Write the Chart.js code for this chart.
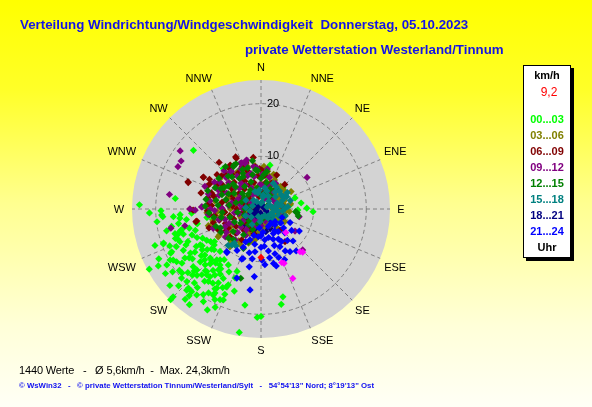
<!DOCTYPE html>
<html>
<head>
<meta charset="utf-8">
<script src="https://cdn.jsdelivr.net/npm/chart.js@4.4.0/dist/chart.umd.min.js"></script>
<style>
html, body { margin: 0; padding: 0; }
body {
    width: 592px; height: 407px; overflow: hidden; position: relative;
    background: linear-gradient(#ffff00 0%, #ffff28 22%, #ffff90 50%, #ffffd8 80%, #fffff6 100%);
    font-family: "Liberation Sans", Arial, sans-serif;
}
#chart { position: absolute; left: 0; top: 0; }
.title { position: absolute; white-space: pre; color: #1414e6; font-weight: bold; font-size: 13.3px; line-height: 16px; }
#legend { position: absolute; left: 523px; top: 65px; width: 46px; height: 191px; background: #fff; border: 1px solid #000; box-shadow: 3px 3px 0 #000; }
#legend div { position: absolute; left: 0; width: 46px; text-align: center; font-weight: bold; font-size: 11px; line-height: 16px; }
.foot { position: absolute; left: 19px; white-space: pre; }
</style>
</head>
<body>
<canvas id="chart" width="592" height="407"></canvas>
<div class="title" style="left:20px;top:17px">Verteilung Windrichtung/Windgeschwindigkeit  Donnerstag, 05.10.2023</div>
<div class="title" style="left:245px;top:42px">private Wetterstation Westerland/Tinnum</div>
<div id="legend"></div>
<div class="foot" style="top:362px;font-size:11px;line-height:16px;color:#000;letter-spacing:-0.15px">1440 Werte   -   Ø 5,6km/h  -  Max. 24,3km/h</div>
<div class="foot" style="top:380px;font-size:7.8px;line-height:12px;color:#1010f0;font-weight:bold">© WsWin32   -   © private Wetterstation Tinnum/Westerland/Sylt   -   54°54'13" Nord; 8°19'13" Ost</div>
<script>
// wind speed axis (km/h)
const speedMax = 24.5;
const ringValues = [10, 20];
const dirLabels = ["N", "NNE", "NE", "ENE", "E", "ESE", "SE", "SSE",
                   "S", "SSW", "SW", "WSW", "W", "WNW", "NW", "NNW"];
const currentSpeed = "9,2";

const hourLabels = ["00...03", "03...06", "06...09", "09...12",
                    "12...15", "15...18", "18...21", "21...24"];
const hourColors = ["#00ff00", "#808000", "#800000", "#800080",
                    "#008000", "#008080", "#000080", "#0000ff"];

// [direction in degrees, speed in km/h]
const h00_03 = [
    [272,23.1],[311,17.0],[266.5,18.9],[265,16.7],[266,15.4],[266.5,13.2],[277,16.4],[259,17.3],
    [253,16.5],[255,15.8],[251,17.2],[254,17.0],[250.7,19.6],[244.4,18.8],[241.7,24.1],[240.7,19.8],
    [235.6,18.2],[229,20.0],[222.5,20.9],[225,23.6],[219.6,21.4],[208.7,18.2],[210,17.5],[207,19.3],
    [212,18.8],[202.5,18.7],[204,16.2],[206,16.6],[200.6,14.0],[208.5,15.0],[219.3,16.2],[216,17.0],
    [222,15.8],[224,17.5],[227.2,17.3],[229,18.4],[235.8,16.5],[238,15.8],[235.2,13.6],[232,14.4],
    [238,13.2],[240,14.2],[233,12.8],[232.5,11.2],[229,11.8],[235,10.8],[222.8,14.2],[220,13.4],
    [225,15.0],[218,14.8],[218.8,12.4],[213.9,13.7],[210.3,12.3],[248,16.6],[246,15.2],[257.5,12.5],
    [258,9.3],[261,10.4],[189.5,18.5],[180,20.4],[182,20.6],[190,23.8],[166,17.2],[168,18.5],
    [82,5.6],[72,6.8],[81.5,7.7],[89,8.7],[93,9.9],[91.5,7.0],[317,10.5],[11.6,8.5],[24,7.0],[46,5.8],
    [269,19.0],[265.5,18.7],[263.5,15.5],[257,12.4],[254,16.2],[252,15.5],[250,16.8],[256,15.3],
    [249.4,14.0],[243.5,12.4],[250.3,19.7],[244.4,15.8],[239.5,13.4],[230.6,13.8],[236.9,15.0],
    [237.2,17.2],[226,13.4],[229,15.3],[243.9,19.1],[239.8,19.3],[239.3,20.8],[234.6,20.6],[231,19.3],
    [225.6,19.7],[229.6,16.9],[226.5,16.8],[222,16.8],[220.9,15.7],[224,13.5],[221,12.8],[216.2,13.2],
    [215,14.1],[214.9,15.3],[217,16.1],[203.3,15.7],[222.5,20.4],[220,20.5],[216.8,20.4],[211.9,20.7],
    [209,18.7],[209.2,17.2],[204.3,18.9],[224.9,24.3],[216.8,22.7],[208,21.7],[12,6.1],[330,8.4],
    [262,14.3],[268,21.2],[263,19.9],[260,15.9],[257,18.4],[255,14.1],[252,13.1],[248,18.7],
    [246,13.3],[244,21.6],[242,16.7],[240,11.9],[238,18.9],[236,21.9],[234,16.1],[231,12.1],
    [230,22.6],[228,14.4],[226,18.1],[224,11.2],[222,18.9],[220,22.4],[218,17.4],[216,11.9],
    [214,19.6],[212,14.6],[210,16.2],[207,13.4],[205,20.6],[203,17.6],[201,12.7],[198,16.4],
    [246,17.6],[233,19.4],[227,21.4],[241,22.3],[251,21.3],[219,19.2],[237,11.4],[213,16.8]
];
const h03_06 = [
    [334.8,7.1],[37,4.9],[252.4,10.5],[219.4,9.3],[266.5,8.3],[19.3,5.2],[125,3.6],[237,9.7],[238,9.3],
    [36,4.5],[64.6,4.0],[104,4.7],[150.6,3.5],[16,4.7],[39,5.1],[62,3.6],[67.8,4.5],[84.6,4.0],[111,4.3],
    [102,2.7],[96,4.6],[251,10.2],[259,7.9],
    [345,4.2],[355,6.5],[10,7.3],[25,6.1],[30,3.2],[45,3.9],[50,5.6],[70,4.8],[75,3.1],[90,3.8],[95,5.4],
    [110,2.9],[5,2.4],[320,5.6],[310,7.9],[300,5.3],[290,6.6],[280,8.9],[270,5.8],[260,7.6],[250,4.2],
    [240,6.7],[230,8.1],[215,7.4],[205,5.1],[195,6.3],[185,4.4],[170,3.3],[140,4.6],[60,6.6],[315,2.6],
    [342,8.6],[15,4.4],[58,5.2],[80,5.7],[118,5.1],[28,5.6],
    [352,8.3],[358,7.7],[4,8.1],[12,6.6],[20,7.0],[33,5.4],[41,5.7],[54,4.2],[66,4.1],[78,4.4],
    [86,4.7],[100,4.1],[114,3.7],[128,3.2],[162,2.6],[178,4.1],[190,5.8],[200,6.9],[210,7.8],[222,8.4],
    [234,7.1],[246,9.0],[256,9.4],[266,10.3],[276,7.8],[286,9.6],[296,8.8],[306,9.7],[316,9.4],[326,8.3],
    [338,7.1],[348,3.8],[2,4.7],[26,3.9],[40,2.5],[88,2.1],[264,2.9],[284,4.6],[230,5.2],[304,6.4]
];
const h06_09 = [
    [334,11.0],[351.5,9.9],[290.4,14.8],[298.8,12.5],[296.7,10.8],[270,13.5],[259,12.6],[44,6.5],[84,4.3],
    [1,7.4],[290,14.7],[269,12.9],[259.4,12.4],[299,12.5],[334,10.7],[0,7.4],[24.8,7.1],[138,5.4],[84,4.1],
    [109,4.5],[143.7,7.7],
    [300,9.5],[310,9.8],[320,8.6],[315,7.2],[325,10.2],[305,6.8],[295,8.1],[285,9.2],[280,7.5],[275,10.1],
    [290,5.6],[300,4.3],[330,6.1],[340,7.8],[345,5.2],[355,6.3],[335,3.8],[320,4.9],[310,3.1],[290,2.8],
    [270,4.6],[265,6.9],[255,8.2],[250,5.5],[245,9.1],[240,7.2],[260,3.5],[280,1.8],[235,5.8],[228,7.9],
    [10,5.1],[20,3.9],[5,3.2],[350,2.4],[300,11.3],[285,11.8],[318,11.9],[342,9.2],[264,9.8],[250,10.5],
    [262,8.9],[268,10.2],[274,9.4],[282,10.3],[288,9.9],[293,11.1],[302,8.6],[308,10.6],[314,9.3],[322,9.9],
    [328,8.1],[336,8.8],[344,6.9],[352,8.1],[358,7.6],[6,6.4],[14,4.8],[22,5.3],[34,4.1],[258,6.1],
    [248,7.3],[238,8.0],[226,6.6],[218,5.2],[208,4.3],[276,5.4],[284,6.8],[296,6.3],[306,5.1],[326,6.7],
    [334,5.1],[318,3.4],[298,3.7],[272,7.6],[254,9.4],[212,6.9],[196,4.9],[230,3.9],[286,3.3],[345,3.6]
];
const h09_12 = [
    [305.7,18.9],[301,17.7],[297,17.7],[279,17.6],[257.6,14.8],[55.6,10.6],[343.7,9.7],[337.4,9.5],
    [61,4.8],[101.5,7.4],[134.5,11.1],[272,11.2],[258,17.5],[244,7.6],[336,9.5],[343,9.6],[319.5,9.1],
    [344,7.0],[30,3.4],[0,4.6],[123,7.7],[272,11.3],[270,13.5],[269,12.5],
    [295,7.2],[310,6.4],[322,9.1],[300,10.2],[288,8.4],[276,6.2],[268,8.8],[254,7.1],[243,5.9],[232,8.6],
    [262,5.1],[283,4.2],[312,8.9],[327,5.4],[338,6.8],[350,8.2],[358,4.7],[15,6.2],[30,5.6],[292,11.5],
    [270,9.6],[248,9.8],[225,6.3],[215,4.8],[200,3.6],[190,2.1],[240,2.9],[300,2.2],[330,3.1],[80,2.2],
    [264,10.1],[271,7.4],[279,9.8],[286,10.4],[294,8.9],[303,9.3],[309,7.9],[316,10.1],[324,7.7],[333,8.5],
    [341,9.1],[348,6.3],[354,7.9],[2,6.6],[9,7.7],[21,4.6],[38,4.2],[48,3.1],[256,8.3],[246,6.6],
    [236,7.9],[228,5.1],[220,7.6],[210,5.8],[282,5.7],[292,4.8],[304,4.6],[314,5.7],[322,6.2],[336,4.4],
    [344,3.1],[272,3.6],[258,4.3],[236,4.1],[208,2.6],[180,3.2],[160,2.4],[100,3.4],[60,2.9],[20,2.1]
];
const h12_15 = [
    [328.5,9.8],[8.7,7.2],[100.6,7.2],[201,6.7],[196.3,13.7],[228,8.3],[331,9.8],[38.6,4.8],[94.4,6.6],
    [331,7.0],[352,7.5],[96,6.9],[204,8.2],
    [335,8.3],[325,7.1],[315,8.8],[305,7.6],[295,9.6],[285,6.9],[275,8.2],[265,7.4],[255,6.1],[245,8.5],
    [300,5.9],[310,4.6],[320,3.7],[340,5.5],[350,4.1],[0,5.8],[15,3.3],[290,3.9],[270,3.1],[250,3.4],
    [235,4.7],[225,3.2],[280,10.6],[300,8.1],[320,10.5],[260,9.1],[290,7.9],[350,9.3],
    [266,9.9],[273,10.6],[281,8.7],[289,10.7],[297,8.5],[306,9.9],[312,7.1],[318,8.2],[327,9.6],[333,7.6],
    [342,8.2],[346,6.7],[355,7.3],[5,6.6],[12,5.1],[25,4.2],[35,3.1],[258,7.7],[249,9.2],[240,8.8],
    [231,6.8],[222,7.8],[214,5.9],[202,4.2],[277,6.1],[284,4.9],[295,6.8],[304,3.8],[311,6.4],[324,5.3],
    [331,4.1],[356,2.8],[262,4.5],[244,5.6],[218,3.8],[192,2.9],[170,1.9],[60,1.6],[90,2.4],[280,2.3]
];
const h15_18 = [
    [25.6,5.4],[64.4,5.4],[81.6,3.0],[102,2.4],[137,1.9],[79,4.0],[9,2.7],[184,2.4],[219,8.8],[218,8.2],
    [341,3.5],[349,3.1],[9.5,2.3],[8,1.3],[71.6,1.2],[80,2.1],[93.6,3.0],[78,3.7],[61,4.8],[62.5,5.3],
    [125.8,4.4],[81,2.7],
    [50,3.6],[40,4.2],[70,3.3],[85,5.1],[30,2.8],[55,4.7],[95,4.1],[110,3.5],[120,2.6],[150,1.4],
    [200,1.5],[230,2.4],[260,2.1],[290,1.7],[320,2.2],[0,1.1],[45,2.1],[65,1.8],
    [10,4.1],[18,3.6],[35,5.1],[46,4.9],[58,5.9],[68,4.4],[74,5.8],[88,4.6],[98,3.3],[106,4.8],
    [115,2.1],[130,3.1],[142,2.2],[175,1.6],[210,3.4],[246,3.2],[276,2.9],[300,3.3],[330,1.6],[355,3.6],
    [222,9.3],[214,8.5]
];
const h18_21 = [
    [180,1.2],[190,2.3],[200,3.1],[210,2.6],[220,3.4],[230,1.9],[170,2.8],[160,3.6],[150,2.1],[240,2.6],
    [250,1.5],[195,3.9],[205,1.6],[175,3.4],[185,0.8],[215,4.1],[165,1.5],[140,2.9],[225,2.2],[235,3.7],
    [260,0.9],[130,1.6],[200,4.4],[190,4.8],[155,4.1],[270,2.2],[300,1.2],[120,3.2],[238,1.0],[245,3.1],
    [182,2.0],[188,3.1],[198,2.0],[208,3.6],[218,1.4],[228,2.9],[245,2.0],[255,2.4],[172,1.9],[162,2.5],
    [147,3.6],[135,2.2],[212,4.8],[228,4.4],[182,5.0],[168,4.4],[192,1.5],[205,2.9],[280,1.1],[320,0.7],
    [10,0.9],[70,0.6],[110,1.1],[240,4.2],[220,5.1]
];
const h21_24 = [
    [204.8,8.0],[201,10.2],[191.5,11.2],[185.6,12.9],[187.7,15.5],[199.3,13.9],[218.8,10.4],[176,10.6],
    [167,10.6],[145.8,9.8],[147.7,7.3],[135,6.4],[162.7,8.9],[188,8.2],[173,5.9],[153,5.2],[157.6,3.6],
    [138.8,4.0],[142.7,5.4],[179,9.7],[153.3,8.0],[199.5,6.2],[185.6,5.3],[218,10.5],[200,10.0],
    [140,7.8],[150,6.6],[160,7.4],[170,8.1],[180,7.3],[190,6.8],[165,5.6],[175,4.4],[185,3.6],[195,5.2],
    [150,9.2],[135,8.6],[130,5.6],[125,7.1],[145,3.3],[160,9.8],[170,9.4],[155,10.6],[180,5.1],[195,8.6],
    [205,6.9],[210,9.1],[125,4.6],[140,10.4],[165,11.2],[115,6.1],[120,8.4],[190,9.6],[175,7.1],[158,6.2],
    [148,4.9],[132,3.6],[112,4.3]
];
const lastHour = [[133.5,6.5],[137.6,11.0],[158.8,10.9],[155.4,14.5],[136,11.4],[157,11.2]];
const currentValue = [[180,9.2]];

const hourSeries = [h00_03, h03_06, h06_09, h09_12, h12_15, h15_18, h18_21, h21_24];
// drawing order (higher = drawn earlier, below)
const hourOrder = [12, 10, 9, 8, 7, 6, 11, 4];

// legend box
const legend = document.getElementById("legend");
function legendLine(text, top, color, extra) {
    const d = document.createElement("div");
    d.textContent = text;
    d.style.top = top + "px";
    d.style.color = color;
    if (extra) Object.assign(d.style, extra);
    legend.appendChild(d);
}
legendLine("km/h", 1, "#000");
legendLine(currentSpeed, 18, "#ff0000", { fontWeight: "normal", fontSize: "12px", left: "2px" });
hourLabels.forEach((l, i) => legendLine(l, 45 + i * 16, hourColors[i]));
legendLine("Uhr", 173, "#000");

function toXY(pairs) {
    return pairs.map(p => ({
        x: p[1] * Math.sin(p[0] * Math.PI / 180),
        y: p[1] * Math.cos(p[0] * Math.PI / 180)
    }));
}

// nudges for the compass labels, pixels
const labelNudge = [[0,1],[7,1.5],[1,0],[3,-3],[-2,1],[3,5],[1,2],[7,1],
                    [0,0],[-8,1],[-2,2],[-8,5],[0,1],[-8,-3],[-2,0],[-8,1.5]];

const polarGrid = {
    id: "polarGrid",
    beforeDatasetsDraw(chart) {
        const ctx = chart.ctx;
        const xs = chart.scales.x, ys = chart.scales.y;
        const cx = xs.getPixelForValue(0), cy = ys.getPixelForValue(0);
        const R = xs.getPixelForValue(speedMax) - cx;
        ctx.save();
        ctx.fillStyle = "#d3d3d3";
        ctx.beginPath();
        ctx.arc(cx, cy, R, 0, Math.PI * 2);
        ctx.fill();

        ctx.strokeStyle = "#808080";
        ctx.lineWidth = 1;
        ctx.setLineDash([4, 3]);
        ringValues.forEach(v => {
            const r = xs.getPixelForValue(v) - cx;
            ctx.beginPath();
            ctx.arc(cx, cy, r, 0, Math.PI * 2);
            ctx.stroke();
        });
        for (let i = 0; i < 16; i++) {
            const a = i * 22.5 * Math.PI / 180;
            ctx.beginPath();
            ctx.moveTo(cx, cy);
            ctx.lineTo(cx + R * Math.sin(a), cy - R * Math.cos(a));
            ctx.stroke();
        }
        ctx.setLineDash([]);

        ctx.fillStyle = "#000";
        ctx.font = '11px "Liberation Sans", Arial, sans-serif';
        ctx.textAlign = "center";
        ctx.textBaseline = "middle";
        dirLabels.forEach((l, i) => {
            const a = i * 22.5 * Math.PI / 180;
            const lr = R + 13;
            ctx.fillText(l, cx + lr * Math.sin(a) + labelNudge[i][0], cy - lr * Math.cos(a) + labelNudge[i][1]);
        });
        ctx.textAlign = "left";
        ringValues.forEach(v => {
            const r = xs.getPixelForValue(v) - cx;
            ctx.fillText(String(v), cx + 6, cy - r);
        });
        ctx.restore();
    }
};

const datasets = hourSeries.map((s, i) => ({
    label: hourLabels[i],
    data: toXY(s),
    backgroundColor: hourColors[i],
    order: hourOrder[i]
}));
datasets.push({ label: "letzte Stunde", data: toXY(lastHour), backgroundColor: "#ff00ff", order: 1 });
datasets.push({ label: "aktuell", data: toXY(currentValue), backgroundColor: "#ff0000", order: 0 });

new Chart(document.getElementById("chart"), {
    type: "scatter",
    data: { datasets: datasets },
    options: {
        responsive: false,
        animation: false,
        devicePixelRatio: 1,
        layout: { padding: { left: 132, right: 202, top: 80, bottom: 69 } },
        elements: {
            point: { pointStyle: "rectRot", radius: 3.6, borderWidth: 0, hoverRadius: 3.6 }
        },
        plugins: { legend: { display: false }, tooltip: { enabled: false } },
        scales: {
            x: { display: false, min: -speedMax, max: speedMax },
            y: { display: false, min: -speedMax, max: speedMax }
        }
    },
    plugins: [polarGrid]
});
</script>
</body>
</html>
